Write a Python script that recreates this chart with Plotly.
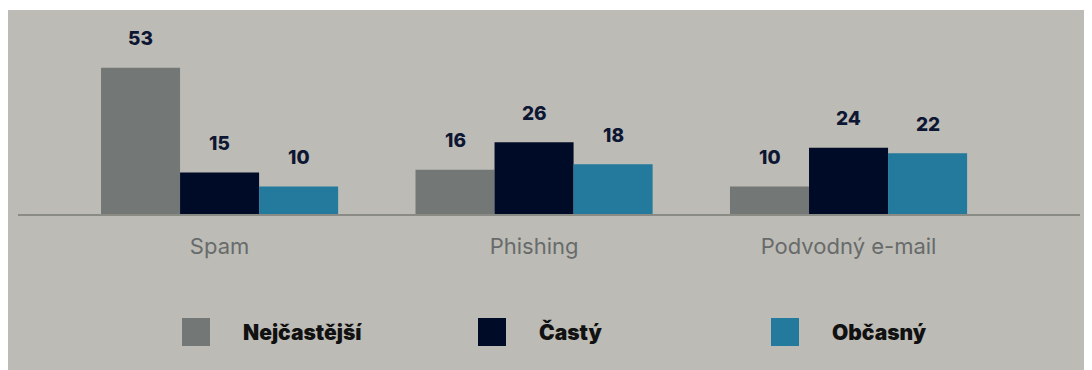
import plotly.graph_objects as go

categories = ["Spam", "Phishing", "Podvodný e-mail"]
series_names = ["Nejčastější", "Častý", "Občasný"]
series_values = [
    [53, 16, 10],
    [15, 26, 24],
    [10, 18, 22],
]
series_colors = ["#737877", "#000b27", "#237a9c"]

# page body has an 8px margin; figure sized to fill the remaining window
OFF = 8
W, H = 1092 - OFF, 370 - OFF
ML, MR, MT, MB = 10, 12, 2, 156
PW, PH = W - ML - MR, H - MT - MB
BARGAP = 0.246
XR = [-0.641, 2.736]
YR = [0, 73.9]

def px_x(p):
    # screen pixel -> paper x
    return (p - OFF - ML) / PW

def px_y(p):
    # screen pixel -> paper y
    return (H - MB - (p - OFF)) / PH

FONT = "Inter, Roboto, sans-serif"

fig = go.Figure()
for name, vals, col in zip(series_names, series_values, series_colors):
    fig.add_trace(go.Bar(
        x=list(range(len(categories))), y=vals, name=name,
        marker=dict(color=col, line=dict(width=0)),
        showlegend=False, hoverinfo="skip",
    ))

bw = (1 - BARGAP) / len(series_names)
annotations = []
for j, vals in enumerate(series_values):
    for i, v in enumerate(vals):
        annotations.append(dict(
            x=i + (j - (len(series_names) - 1) / 2) * bw, y=v, xref="x", yref="y",
            text=str(v), showarrow=False, yanchor="middle", yshift=29,
            font=dict(family=FONT, size=19, color="#0d1632", weight=800),
        ))

# grey panel below a thin white strip at top
shapes = [dict(
    type="rect", xref="paper", yref="paper", layer="below",
    x0=px_x(0), x1=px_x(1100), y0=px_y(380), y1=px_y(10),
    fillcolor="#bdbbb6", line=dict(width=0),
)]

# manual legend
legend_sq_x = [182, 478, 771]
legend_tx_x = [241, 537, 830]
for k, name in enumerate(series_names):
    shapes.append(dict(
        type="rect", xref="paper", yref="paper",
        x0=px_x(legend_sq_x[k]), x1=px_x(legend_sq_x[k] + 28),
        y0=px_y(346), y1=px_y(318),
        fillcolor=series_colors[k], line=dict(width=0),
    ))
    annotations.append(dict(
        x=px_x(legend_tx_x[k]), y=px_y(332), xref="paper", yref="paper",
        xanchor="left", yanchor="middle", showarrow=False,
        text=name,
        font=dict(family=FONT, size=21, color="#111111", weight=900),
    ))

fig.update_layout(
    width=W, height=H,
    margin=dict(l=ML, r=MR, t=MT, b=MB),
    paper_bgcolor="#ffffff", plot_bgcolor="rgba(0,0,0,0)",
    barmode="group", bargap=BARGAP, bargroupgap=0,
    shapes=shapes, annotations=annotations,
    xaxis=dict(
        range=XR, tickmode="array", tickvals=list(range(len(categories))),
        ticktext=categories, showgrid=False, zeroline=False,
        showline=True, linecolor="#8b8b86", linewidth=1.5,
        ticks="", ticklabelstandoff=12,
        tickfont=dict(family=FONT, size=22, color="#676b6a"),
    ),
    yaxis=dict(range=YR, visible=False, showgrid=False, zeroline=False),
)

fig.write_html("out.html")
